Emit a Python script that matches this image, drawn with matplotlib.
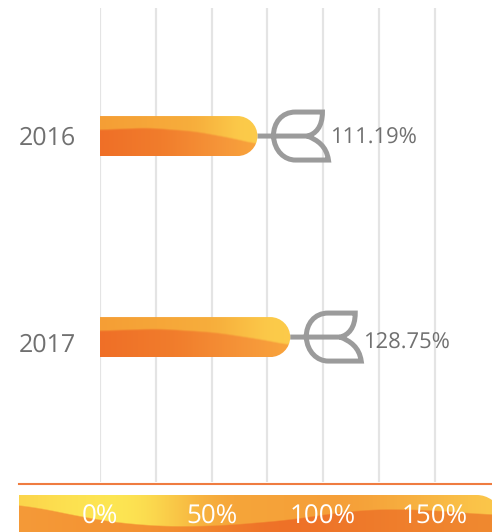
import matplotlib
matplotlib.use("Agg")
import matplotlib.pyplot as plt
import numpy as np
from matplotlib.colors import to_rgb
from matplotlib.path import Path
from matplotlib.patches import PathPatch
from matplotlib.transforms import Affine2D, ScaledTranslation

plt.rcParams['font.family'] = ['Open Sans', 'DejaVu Sans']
plt.rcParams['text.hinting'] = 'no_hinting'
plt.rcParams['text.hinting_factor'] = 1

# data
years = ['2016', '2017']
bar_values = [70.6, 85.3]        # where the bar body ends on the axis
value_labels = ['111.19%', '128.75%']
tick_values = [0, 50, 100, 150]
tick_labels = ['0%', '50%', '100%', '150%']
minor_values = [25, 75, 125]

W, H = 492, 532
TEXT = '#707070'
DART = '#9B9B9B'


def px_axes(fig, x0, y0, x1, y1):
    # axes from pixel box, y measured from the top
    return fig.add_axes([x0 / W, 1 - y1 / H, (x1 - x0) / W, (y1 - y0) / H])


def smooth(values, width):
    # moving average with the ends held, takes the corners out of the curves
    kernel = np.ones(width) / width
    padded = np.pad(values, width, mode='edge')
    return np.convolve(padded, kernel, mode='same')[width:-width]


def ramp(xs, stops, colors):
    cols = np.array([to_rgb(c) for c in colors])
    return np.stack([smooth(np.interp(xs, stops, cols[:, i]), len(xs) // 8) for i in range(3)], axis=-1)


def wave_image(nx, ny, top_stops, top_cols, low_stops, low_cols, edge_x, edge_y):
    # two horizontal gradients split along a curved edge
    xs = np.linspace(0, 1, nx)
    ys = np.linspace(0, 1, ny)
    top = ramp(xs, top_stops, top_cols)
    low = ramp(xs, low_stops, low_cols)
    edge = smooth(np.interp(xs, edge_x, edge_y), nx // 6)
    img = np.zeros((ny, nx, 3))
    for j, y in enumerate(ys):
        mask = np.clip((y - edge) * ny / 1.5 + 0.5, 0, 1)[:, None]
        img[j] = top * (1 - mask) + low * mask
    return img


fig = plt.figure(figsize=(W / 100, H / 100), dpi=100)

# bottom band
band = px_axes(fig, 19, 495, 492, 532)
band.axis('off')
band_img = wave_image(
    473, 37,
    [0, 0.08, 0.24, 0.42, 0.7, 1], ['#FBD24A', '#FDE050', '#FDE854', '#F6A63A', '#F59E38', '#FBC84B'],
    [0, 0.3, 0.55, 1], ['#F59A38', '#F39030', '#EE6F27', '#F08A30'],
    [0, 0.12, 0.25, 0.4, 0.6, 0.7, 0.85, 1], [0.22, 0.58, 0.84, 0.87, 0.65, 0.40, 0.38, 0.55])
im = band.imshow(band_img, extent=(0, 473, 37, 0), aspect='auto', interpolation='bilinear')
clip = Path([(0, 37), (0, 0), (458, 0), (466, 0), (473, 5), (473, 37), (0, 37)],
            [Path.MOVETO, Path.LINETO, Path.LINETO, Path.CURVE3, Path.CURVE3, Path.LINETO, Path.CLOSEPOLY])
im.set_clip_path(PathPatch(clip, transform=band.transData))

# main axes, 0% sits at x=100 and 50% is 111.5 px further on
ax = px_axes(fig, 100, 8, 492, 482)
ax.patch.set_alpha(0)
ax.set_xlim(0, 392 / 2.23)
ax.set_ylim(1.721, -0.637)
for s in ax.spines.values():
    s.set_visible(False)
ax.set_xticks(tick_values)
ax.set_xticklabels(tick_labels, color='white', fontsize=19)
ax.set_xticks(minor_values, minor=True)
ax.tick_params(axis='x', which='both', length=0, pad=15.5)
ax.set_yticks([])
ax.set_axisbelow(True)
ax.grid(axis='x', which='both', color='#E4E4E4', lw=1.6)

# separator line
fig.add_artist(plt.Line2D([19 / W, 1], [1 - 484 / H] * 2, color='#EF7C40', lw=1.5))

bar_h = 40 / 201
bar_img = wave_image(
    300, 40,
    [0, 0.6, 0.9, 1], ['#F59E35', '#F7AE3C', '#FCCB4A', '#FCCB4A'],
    [0, 0.4, 0.8, 1], ['#EF6F27', '#F17D2C', '#F6983A', '#F9A53C'],
    [0, 0.3, 0.6, 0.85, 1], [0.36, 0.31, 0.40, 0.58, 0.72])

# dart drawn in pixels relative to the end of the bar, y up
dart_verts = [
    (0, 0), (50, 0),
    (16, 0), (16, 13), (24, 24), (38, 24),
    (65, 24), (65, 24), (65, 24),
    (65, 9), (58, 2), (50, 0),
    (16, 0), (17, -15), (27, -24), (38, -24),
    (71, -24), (71, -24), (71, -24),
    (69, -10), (60, -4), (50, 0),
]
dart_codes = [
    Path.MOVETO, Path.LINETO,
    Path.MOVETO, Path.CURVE4, Path.CURVE4, Path.CURVE4,
    Path.LINETO, Path.LINETO, Path.LINETO,
    Path.CURVE4, Path.CURVE4, Path.CURVE4,
    Path.MOVETO, Path.CURVE4, Path.CURVE4, Path.CURVE4,
    Path.LINETO, Path.LINETO, Path.LINETO,
    Path.CURVE4, Path.CURVE4, Path.CURVE4,
]
dart_path = Path(dart_verts, dart_codes)
year_dy = [-2, -8]
label_dy = [-2, -6]

for i, (year, val, lab) in enumerate(zip(years, bar_values, value_labels)):
    top, bot = i - bar_h / 2, i + bar_h / 2
    img = ax.imshow(bar_img, extent=(0, val, bot, top), aspect='auto',
                    interpolation='bilinear', zorder=3)
    # rounded right end, half circle from two cubic segments
    r = 20 / 2.23
    k = 0.55 * r
    mid_k = 0.55 * bar_h / 2
    body = Path(
        [(0, top), (val - r, top),
         (val - r + k, top), (val, i - mid_k), (val, i),
         (val, i + mid_k), (val - r + k, bot), (val - r, bot),
         (0, bot), (0, top)],
        [Path.MOVETO, Path.LINETO,
         Path.CURVE4, Path.CURVE4, Path.CURVE4,
         Path.CURVE4, Path.CURVE4, Path.CURVE4,
         Path.LINETO, Path.CLOSEPOLY])
    img.set_clip_path(PathPatch(body, transform=ax.transData))

    tr = Affine2D() + ScaledTranslation(val, i, ax.transData)
    ax.add_patch(PathPatch(dart_path, fc='none', ec=DART, lw=3.6, transform=tr,
                           joinstyle='miter', capstyle='butt', zorder=2, clip_on=False))

    ax.annotate(year, (0, i), xytext=(-81, year_dy[i]), textcoords='offset pixels',
                ha='left', va='center', color=TEXT, fontsize=18.2, annotation_clip=False)
    ax.annotate(lab, (val, i), xytext=(73, label_dy[i]), textcoords='offset pixels',
                ha='left', va='center', color=TEXT, fontsize=16, annotation_clip=False, zorder=4)

ax.set_xlim(0, 392 / 2.23)
ax.set_ylim(1.721, -0.637)

fig.savefig('out.png', dpi=100)
